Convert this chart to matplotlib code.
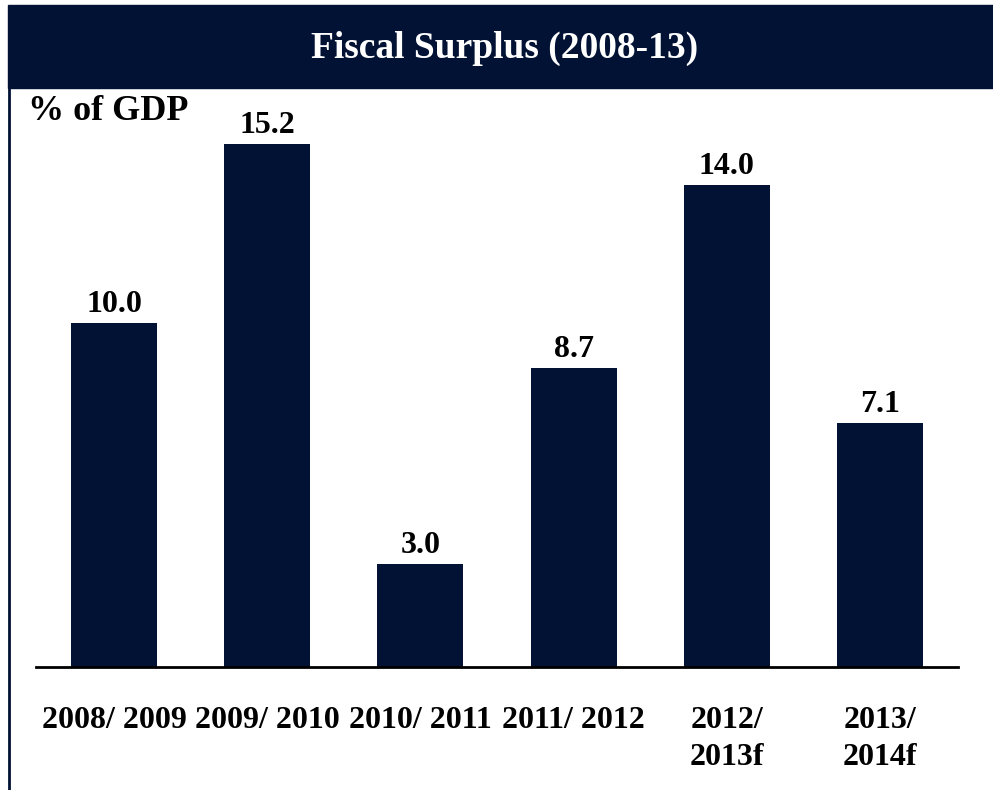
import matplotlib
matplotlib.use("Agg")
import matplotlib.pyplot as plt
from matplotlib.patches import Rectangle
from matplotlib.lines import Line2D

# data
years = ["2008/ 2009", "2009/ 2010", "2010/ 2011", "2011/ 2012", "2012/\n2013f", "2013/\n2014f"]
surplus = [10.0, 15.2, 3.0, 8.7, 14.0, 7.1]

navy = "#021235"
plt.rcParams["font.family"] = ["Liberation Serif", "DejaVu Serif"]
plt.rcParams["font.weight"] = "bold"

W, H = 993, 790
fig = plt.figure(figsize=(W / 100, H / 100), dpi=100)

# title band and left border
fig.patches.append(Rectangle((8 / W, 1 - 88 / H), 1 - 8 / W, 83 / H,
                             transform=fig.transFigure, color=navy, zorder=0))
fig.lines.append(Line2D([9 / W, 9 / W], [0, 1 - 88 / H], transform=fig.transFigure,
                        color=navy, lw=2))
fig.text(505 / W, 1 - 48 / H, "Fiscal Surplus (2008-13)", color="white",
         fontsize=27, fontweight="bold", ha="center", va="center")
fig.text(28 / W, 1 - 112 / H, "% of GDP", color="black",
         fontsize=26, fontweight="bold", ha="left", va="center")

ax = fig.add_axes([36 / W, (H - 667) / H, (958 - 36) / W, (667 - 95) / H])
x = list(range(len(years)))
bars = ax.bar(x, surplus, width=0.56, color=navy)
for b, v in zip(bars, surplus):
    ax.annotate(f"{v:.1f}", (b.get_x() + b.get_width() / 2, v),
                xytext=(0, 3), textcoords="offset points",
                ha="center", va="bottom", fontsize=23, fontweight="bold")

ax.set_xlim(-0.509, 5.509)
ax.set_ylim(0, 16.63)
for s in ["top", "right", "left"]:
    ax.spines[s].set_visible(False)
ax.spines["bottom"].set_linewidth(2)
ax.spines["bottom"].set_color("black")
ax.set_yticks([])
ax.set_xticks(x)
ax.set_xticklabels(years, fontsize=23, fontweight="bold", linespacing=1.35)
ax.tick_params(axis="x", length=0, pad=28)
ax.patch.set_alpha(0)

fig.savefig("out.png", dpi=100)
